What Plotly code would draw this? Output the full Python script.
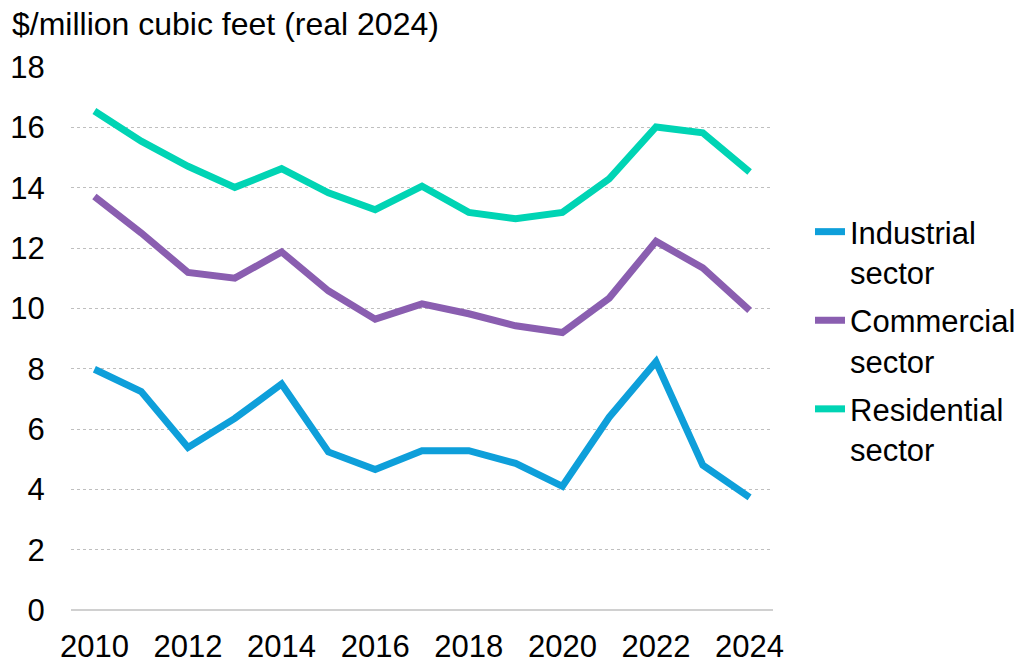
import plotly.graph_objects as go

# %% data
years = [str(y) for y in range(2010, 2025)]
tick_years = ['2010', '2012', '2014', '2016', '2018', '2020', '2022', '2024']

industrial = [7.98, 7.24, 5.39, 6.35, 7.49, 5.24, 4.66, 5.28, 5.28, 4.86, 4.10, 6.39, 8.23, 4.80, 3.73]
commercial = [13.71, 12.50, 11.19, 11.00, 11.87, 10.58, 9.64, 10.15, 9.82, 9.42, 9.20, 10.34, 12.22, 11.34, 9.93]
residential = [16.54, 15.54, 14.71, 14.01, 14.63, 13.83, 13.27, 14.05, 13.18, 12.97, 13.18, 14.29, 16.01, 15.82, 14.52]

series_names = ['Industrial<br>sector', 'Commercial<br>sector', 'Residential<br>sector']
series_colors = ['#0E9FDA', '#8A5EB0', '#00D4B4']

# %% plotting
fig = go.Figure()
for i, (name, vals, col) in enumerate(zip(series_names, [industrial, commercial, residential], series_colors)):
    fig.add_trace(go.Scatter(x=years, y=vals, name=name, mode='lines',
                             legendgroup='g%d' % i,
                             line=dict(color=col, width=7)))

family = 'Liberation Sans, Arial, sans-serif'
tick_font = dict(family=family, size=31, color='#000000')
title_font = dict(family=family, size=32, color='#000000')
legend_font = dict(family=family, size=31, color='#000000')

# the html body has an 8px margin, so the figure is 8px smaller each way
W, H = 1020, 656
fig.update_layout(
    width=W, height=H,
    margin=dict(l=63, r=255, t=59, b=54),
    paper_bgcolor='white', plot_bgcolor='white',
    font=tick_font,
    title=dict(text='$/million cubic feet (real 2024)', xref='container', yref='container',
               x=4 / W, xanchor='left', y=1 - 16 / H, yanchor='middle',
               font=title_font),
    legend=dict(xref='container', yref='container', x=802 / W, xanchor='left',
                y=1 - 197 / H, yanchor='top',
                valign='top', tracegroupgap=5, font=legend_font,
                itemwidth=30, bgcolor='rgba(0,0,0,0)'),
    showlegend=True,
)
fig.update_xaxes(type='category', tickvals=tick_years, ticktext=tick_years,
                 showgrid=False, showline=False, ticks='outside', ticklen=9,
                 tickcolor='rgba(0,0,0,0)', range=[-0.5, 14.5], tickfont=tick_font,
                 automargin=False)
fig.update_yaxes(range=[0, 18], dtick=2, showgrid=True, gridcolor='#BFBFBF',
                 griddash='dot', gridwidth=1, zeroline=True, zerolinecolor='#D0D0D0',
                 zerolinewidth=2, showline=False, ticks='outside', ticklen=19,
                 tickcolor='rgba(0,0,0,0)', tickfont=tick_font, automargin=False)

fig.write_html("out.html")
